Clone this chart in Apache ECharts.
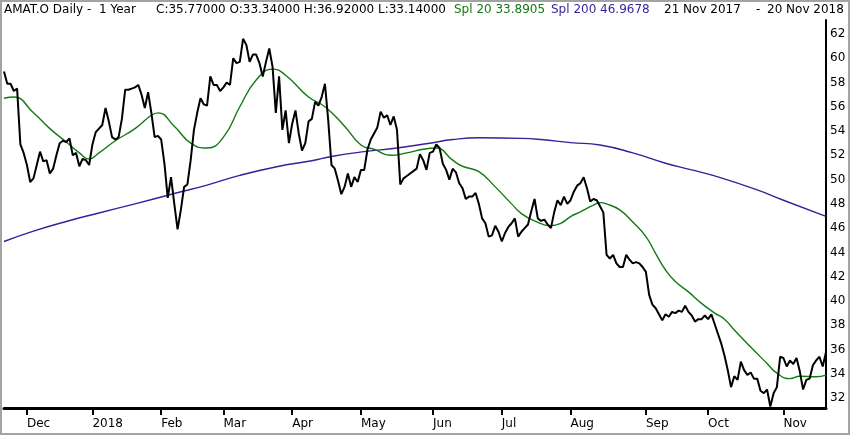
<!DOCTYPE html>
<html>
<head>
<meta charset="utf-8">
<script src="https://cdn.jsdelivr.net/npm/echarts@6/dist/echarts.min.js"></script>
<style>
  html, body { margin: 0; padding: 0; background: #fff; }
  #main { width: 850px; height: 435px; }
</style>
</head>
<body>
<div id="main"></div>
<script>
// trading calendar 21 Nov 2017 - 20 Nov 2018
const startDay = '2017-11-21';
const endDay = '2018-11-20';
const holidays = ['2017-11-23', '2017-12-25', '2018-01-01', '2018-01-15', '2018-02-19',
  '2018-03-30', '2018-05-28', '2018-07-04', '2018-09-03'];
const monthLabels = ['Dec', '2018', 'Feb', 'Mar', 'Apr', 'May', 'Jun', 'Jul', 'Aug', 'Sep', 'Oct', 'Nov'];
const yTicks = [32, 34, 36, 38, 40, 42, 44, 46, 48, 50, 52, 54, 56, 58, 60, 62];

// daily closes
const closes = [
  58.9, 57.9, 57.9, 57.3, 57.5, 52.9, 52.2, 51.2, 49.8, 50.1,
  51.2, 52.3, 51.5, 51.6, 50.5, 50.9, 52.0, 53.0, 53.2, 53.1,
  53.4, 52.0, 52.2, 51.1, 51.7, 51.6, 51.2, 52.9, 53.9, 54.2,
  54.5, 55.9, 54.8, 53.5, 53.3, 53.5, 55.0, 57.4, 57.4, 57.5,
  57.6, 57.8, 57.0, 55.9, 57.2, 55.5, 53.5, 53.6, 53.3, 51.3,
  48.5, 50.2, 48.0, 45.9, 47.5, 49.4, 49.6, 51.6, 54.1, 55.5,
  56.7, 56.2, 56.1, 58.5, 57.8, 57.8, 57.3, 57.6, 58.0, 57.8,
  60.0, 59.6, 59.7, 61.6, 61.1, 59.7, 60.3, 60.3, 59.6, 58.5,
  59.7, 60.8, 59.3, 55.5, 58.5, 54.1, 55.7, 53.0, 54.6, 55.7,
  53.8, 52.4, 53.0, 54.8, 55.0, 56.4, 56.1, 56.8, 57.9, 54.9,
  51.2, 50.9, 49.9, 48.8, 49.4, 50.5, 49.4, 50.2, 49.8, 50.8,
  50.8, 52.5, 53.3, 53.8, 54.3, 55.6, 55.1, 55.3, 54.5, 55.2,
  54.1, 49.6, 50.1, 50.3, 50.5, 50.7, 50.9, 52.1, 51.6, 50.8,
  52.2, 52.3, 52.9, 52.6, 51.3, 50.8, 50.0, 50.9, 50.6, 49.7,
  49.3, 48.4, 48.6, 48.6, 48.9, 48.0, 46.8, 46.4, 45.3, 45.4,
  46.2, 45.7, 44.9, 45.6, 46.1, 46.4, 46.8, 45.3, 45.7, 46.0,
  46.3, 47.4, 48.4, 46.8, 46.6, 46.7, 46.3, 46.0, 47.3, 48.3,
  47.9, 48.6, 48.0, 48.3, 49.0, 49.5, 49.7, 50.2, 49.3, 48.2,
  48.4, 48.3, 47.8, 47.3, 43.8, 43.5, 43.8, 43.1, 42.8, 42.8,
  43.8, 43.4, 43.1, 43.2, 43.1, 42.8, 42.4, 40.5, 39.7, 39.4,
  38.9, 38.4, 38.9, 38.7, 39.1, 39.0, 39.2, 39.1, 39.6, 39.1,
  38.8, 38.3, 38.5, 38.5, 38.8, 38.5, 38.9, 38.1, 37.3, 36.5,
  35.5, 34.3, 32.9, 33.8, 33.5, 35.0, 34.3, 33.9, 34.1, 33.6,
  33.6, 32.6, 32.4, 32.7, 31.3, 32.4, 32.9, 35.4, 35.3, 34.6,
  35.1, 34.8, 35.3, 34.2, 32.7, 33.5, 33.6, 34.7, 35.1, 35.4,
  34.6, 35.8
];

// Spl 20 read at these trading-day positions
const spl20Days = [0, 3, 9, 14, 19, 23, 26, 29, 34, 40, 45, 47, 52, 57, 62, 67, 72, 77, 82,
  86, 93, 98, 104, 109, 113, 118, 123, 128, 132, 137, 140, 145, 150, 155, 158, 162, 167,
  170, 173, 176, 180, 182, 184, 188, 192, 196, 199, 202, 205, 209, 213, 217, 220, 223,
  228, 233, 236, 240, 243, 248, 251];
const spl20 = [56.7, 56.8, 55.5, 54.2, 53.1, 52.2, 51.7, 52.2, 53.2, 54.2, 55.3, 55.5, 54.4,
  53.0, 52.6, 53.5, 56.0, 58.2, 59.1, 58.6, 56.8, 56.0, 54.4, 52.85, 52.5, 52.0, 52.2,
  52.5, 52.6, 51.6, 51.1, 50.65, 49.4, 48.0, 47.2, 46.6, 46.2, 46.4, 46.95, 47.35, 47.9,
  48.1, 48.0, 47.5, 46.5, 45.3, 43.9, 42.55, 41.6, 40.75, 39.8, 39.0, 38.5, 37.6, 36.2,
  34.85, 34.05, 33.6, 33.8, 33.75, 33.89];

// Spl 200 read at these trading-day positions
const spl200Days = [0, 9, 19, 29, 40, 52, 62, 72, 84, 94, 100, 110, 120, 130, 137, 145, 158,
  164, 173, 182, 192, 202, 210, 217, 230, 238, 251];
const spl200 = [44.9, 45.75, 46.55, 47.25, 48.0, 48.85, 49.55, 50.35, 51.1, 51.55, 51.9, 52.3,
  52.6, 53.0, 53.3, 53.45, 53.4, 53.3, 53.05, 52.85, 52.2, 51.35, 50.8, 50.3, 49.15, 48.3,
  46.97];

// header pieces and where they start
const headerItems = [
  { text: 'AMAT.O Daily -  1 Year', x: 4, color: '#000' },
  { text: 'C:35.77000 O:33.34000 H:36.92000 L:33.14000', x: 156, color: '#000' },
  { text: 'Spl 20 33.8905', x: 454, color: '#127a12' },
  { text: 'Spl 200 46.9678', x: 551, color: '#3a1f9a' },
  { text: '21 Nov 2017', x: 664, color: '#000' },
  { text: '-', x: 756, color: '#000' },
  { text: '20 Nov 2018', x: 767, color: '#000' }
];

function tradingDays(from, to, skip) {
  const out = [];
  const d = new Date(from + 'T00:00:00Z');
  const last = new Date(to + 'T00:00:00Z');
  while (d <= last) {
    const s = d.toISOString().slice(0, 10);
    const wd = d.getUTCDay();
    if (wd !== 0 && wd !== 6 && skip.indexOf(s) < 0) out.push(s);
    d.setUTCDate(d.getUTCDate() + 1);
  }
  return out;
}

const days = tradingDays(startDay, endDay, holidays);
const monthStarts = [];
days.forEach((d, i) => {
  if (i > 0 && d.slice(5, 7) !== days[i - 1].slice(5, 7)) monthStarts.push(i);
});
const isMonthStart = (i) => monthStarts.indexOf(i) >= 0;

const font = '"DejaVu Sans", Verdana, sans-serif';
const green = '#127a12';
const purple = '#3a1f9a';

const chart = echarts.init(document.getElementById('main'));

chart.setOption({
  animation: false,
  backgroundColor: '#fff',
  grid: { left: 4, right: 24, top: 20, bottom: 27 },
  graphic: [
    { type: 'rect', shape: { x: 1, y: 1, width: 848, height: 433 },
      style: { fill: 'none', stroke: '#a3a3a3', lineWidth: 2 }, silent: true }
  ].concat(headerItems.map((h) => ({
    type: 'text', x: h.x, y: 10,
    style: { text: h.text, font: '12px ' + font, fill: h.color, verticalAlign: 'middle' }
  }))),
  xAxis: {
    type: 'category',
    data: days,
    boundaryGap: false,
    axisLine: { lineStyle: { color: '#000', width: 3 } },
    axisTick: {
      show: true,
      interval: (i) => isMonthStart(i),
      length: 7,
      lineStyle: { color: '#000', width: 2 }
    },
    axisLabel: {
      interval: (i) => isMonthStart(i),
      formatter: (v, i) => monthLabels[monthStarts.indexOf(i)] || '',
      align: 'left',
      margin: 10,
      color: '#000',
      fontFamily: font,
      fontSize: 12
    },
    splitLine: { show: false }
  },
  yAxis: {
    type: 'value',
    position: 'right',
    min: 31.18,
    max: 63.15,
    axisLine: { show: true, lineStyle: { color: '#000', width: 2 } },
    axisTick: { show: false },
    axisLabel: {
      customValues: yTicks,
      margin: 4,
      color: '#000',
      fontFamily: font,
      fontSize: 12
    },
    splitLine: { show: false }
  },
  series: [
    {
      name: 'Spl 200',
      type: 'line',
      data: spl200Days.map((d, i) => [d, spl200[i]]),
      smooth: true,
      showSymbol: false,
      lineStyle: { color: purple, width: 1.4 }
    },
    {
      name: 'Spl 20',
      type: 'line',
      data: spl20Days.map((d, i) => [d, spl20[i]]),
      smooth: true,
      showSymbol: false,
      lineStyle: { color: green, width: 1.4 }
    },
    {
      name: 'Close',
      type: 'line',
      data: closes,
      showSymbol: false,
      lineStyle: { color: '#000', width: 2 }
    }
  ]
});
</script>
</body>
</html>
